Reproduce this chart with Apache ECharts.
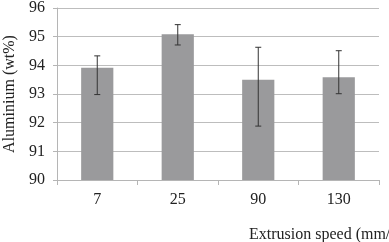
<!DOCTYPE html>
<html><head><meta charset="utf-8">
<script src="https://cdn.jsdelivr.net/npm/echarts@6/dist/echarts.min.js"></script>
<style>html,body{margin:0;padding:0;background:#fff}#c{width:389px;height:242px}</style>
</head><body><div id="c"></div>
<script>
var categories = ['7', '25', '90', '130'];
var aluminium = [93.92, 95.08, 93.5, 93.58];
var errLow = [92.98, 94.71, 91.88, 93.01];
var errHigh = [94.33, 95.42, 94.63, 94.51];
var yTicks = [90, 91, 92, 93, 94, 95, 96];

var font = '"Liberation Serif", "Times New Roman", serif';
var chart = echarts.init(document.getElementById('c'));
chart.setOption({
  animation: false,
  title: {
    text: 'Extrusion speed (mm/s)', left: 244, top: 222,
    textStyle: {fontFamily: font, fontSize: 16, fontWeight: 'normal', color: '#222'}
  },
  grid: {left: 57, right: 10, top: 8, bottom: 62, containLabel: false, outerBoundsMode: 'none'},
  xAxis: {
    type: 'category', data: categories,
    axisLine: {lineStyle: {color: '#b5b5b5'}},
    axisTick: {show: true, length: 5, lineStyle: {color: '#b5b5b5'}},
    axisLabel: {fontFamily: font, fontSize: 16, color: '#222', margin: 12}
  },
  yAxis: {
    type: 'value', min: yTicks[0], max: yTicks[yTicks.length - 1], interval: 1,
    name: 'Aluminium (wt%)', nameLocation: 'middle', nameGap: 37,
    nameTextStyle: {fontFamily: font, fontSize: 16, color: '#222'},
    axisLine: {show: true, lineStyle: {color: '#b5b5b5'}},
    axisTick: {show: true, length: 4, lineStyle: {color: '#b5b5b5'}},
    splitLine: {lineStyle: {color: '#bdbdbd'}},
    axisLabel: {fontFamily: font, fontSize: 16, color: '#222', margin: 12}
  },
  series: [
    {
      type: 'bar', data: aluminium, barWidth: '40%',
      itemStyle: {color: '#9a9a9c'}
    },
    {
      type: 'custom',
      data: categories.map(function (c, i) { return [i, errLow[i], errHigh[i]]; }),
      renderItem: function (params, api) {
        var lo = api.coord([api.value(0), api.value(1)]);
        var hi = api.coord([api.value(0), api.value(2)]);
        var w = 3;
        var st = {stroke: '#333', lineWidth: 1};
        return {type: 'group', children: [
          {type: 'line', shape: {x1: hi[0], y1: hi[1], x2: lo[0], y2: lo[1]}, style: st},
          {type: 'line', shape: {x1: hi[0] - w, y1: hi[1], x2: hi[0] + w, y2: hi[1]}, style: st},
          {type: 'line', shape: {x1: lo[0] - w, y1: lo[1], x2: lo[0] + w, y2: lo[1]}, style: st}
        ]};
      },
      z: 10
    }
  ]
});
</script></body></html>
